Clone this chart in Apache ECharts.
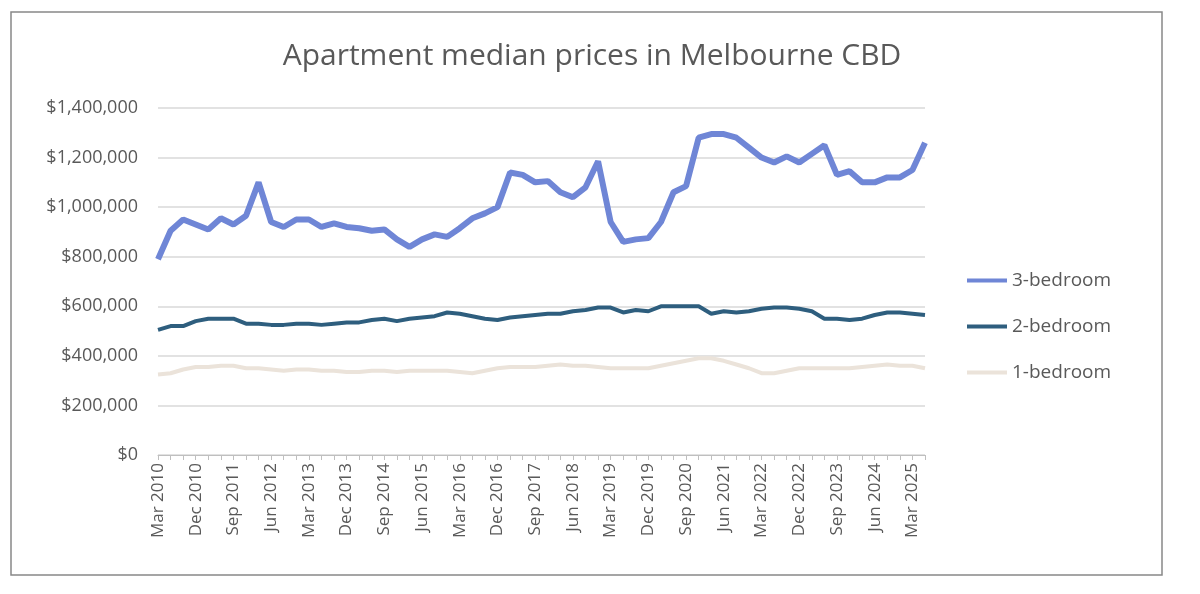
<!DOCTYPE html>
<html><head><meta charset="utf-8">
<script src="https://cdn.jsdelivr.net/npm/echarts@6/dist/echarts.min.js"></script>
<style>body{margin:0}#c{width:1200px;height:594px}</style></head>
<body><div id="c"></div>
<script>
const categories = ["Mar 2010","Jun 2010","Sep 2010","Dec 2010","Mar 2011","Jun 2011","Sep 2011","Dec 2011","Mar 2012","Jun 2012","Sep 2012","Dec 2012","Mar 2013","Jun 2013","Sep 2013","Dec 2013","Mar 2014","Jun 2014","Sep 2014","Dec 2014","Mar 2015","Jun 2015","Sep 2015","Dec 2015","Mar 2016","Jun 2016","Sep 2016","Dec 2016","Mar 2017","Jun 2017","Sep 2017","Dec 2017","Mar 2018","Jun 2018","Sep 2018","Dec 2018","Mar 2019","Jun 2019","Sep 2019","Dec 2019","Mar 2020","Jun 2020","Sep 2020","Dec 2020","Mar 2021","Jun 2021","Sep 2021","Dec 2021","Mar 2022","Jun 2022","Sep 2022","Dec 2022","Mar 2023","Jun 2023","Sep 2023","Dec 2023","Mar 2024","Jun 2024","Sep 2024","Dec 2024","Mar 2025","Jun 2025"];
const bed3 = [790,905,950,930,910,955,930,965,1100,940,920,950,950,920,935,920,915,905,910,870,840,870,890,880,915,955,975,1000,1140,1130,1100,1105,1060,1040,1080,1185,940,860,870,875,940,1060,1085,1280,1295,1295,1280,1240,1200,1180,1205,1180,1215,1250,1130,1145,1100,1100,1120,1120,1150,1260].map(v=>v*1000);
const bed2 = [505,520,520,540,550,550,550,530,530,525,525,530,530,525,530,535,535,545,550,540,550,555,560,575,570,560,550,545,555,560,565,570,570,580,585,595,595,575,585,580,600,600,600,600,570,580,575,580,590,595,595,590,580,550,550,545,550,565,575,575,570,565].map(v=>v*1000);
const bed1 = [325,330,345,355,355,360,360,350,350,345,340,345,345,340,340,335,335,340,340,335,340,340,340,340,335,330,340,350,355,355,355,360,365,360,360,355,350,350,350,350,360,370,380,390,390,380,365,350,330,330,340,350,350,350,350,350,355,360,365,360,360,350].map(v=>v*1000);
const c = echarts.init(document.getElementById('c'));
const txt = '#595959';
c.setOption({
  animation:false,
  graphic:[{type:'rect',shape:{x:11,y:12,width:1151,height:563},style:{fill:'none',stroke:'#888',lineWidth:1.5}}],
  title:{text:'Apartment median prices in Melbourne CBD',left:587,top:36,textAlign:'center',textStyle:{fontFamily:'Open Sans',fontSize:30,fontWeight:'normal',color:txt}},
  legend:{orient:'vertical',left:962,top:266,itemGap:27,itemWidth:40,itemHeight:20,icon:'path://M0,8 L40,8 L40,12 L0,12 Z',textStyle:{fontFamily:'Open Sans',fontSize:19,color:txt},data:['3-bedroom','2-bedroom','1-bedroom']},
  grid:{left:158,right:275,top:108,bottom:139},
  xAxis:{type:'category',data:categories,boundaryGap:false,
    axisLine:{lineStyle:{color:'#bfbfbf'}},axisTick:{show:true,interval:0,lineStyle:{color:'#bfbfbf'}},
    axisLabel:{interval:2,rotate:90,fontFamily:'Open Sans',fontSize:17,color:txt,margin:8}},
  yAxis:{type:'value',min:0,max:1400000,interval:200000,
    axisLabel:{fontFamily:'Open Sans',fontSize:18,color:txt,margin:20,formatter:v=>'$'+v.toLocaleString('en-US')},
    splitLine:{lineStyle:{color:'#d9d9d9',width:1.5}}},
  series:[
    {name:'3-bedroom',type:'line',data:bed3,symbol:'none',lineStyle:{width:6,color:'#6f86d6'},itemStyle:{color:'#6f86d6'}},
    {name:'2-bedroom',type:'line',data:bed2,symbol:'none',lineStyle:{width:4,color:'#2e5e7e'},itemStyle:{color:'#2e5e7e'}},
    {name:'1-bedroom',type:'line',data:bed1,symbol:'none',lineStyle:{width:4,color:'#ebe3da'},itemStyle:{color:'#ebe3da'}}
  ]
});
</script></body></html>
